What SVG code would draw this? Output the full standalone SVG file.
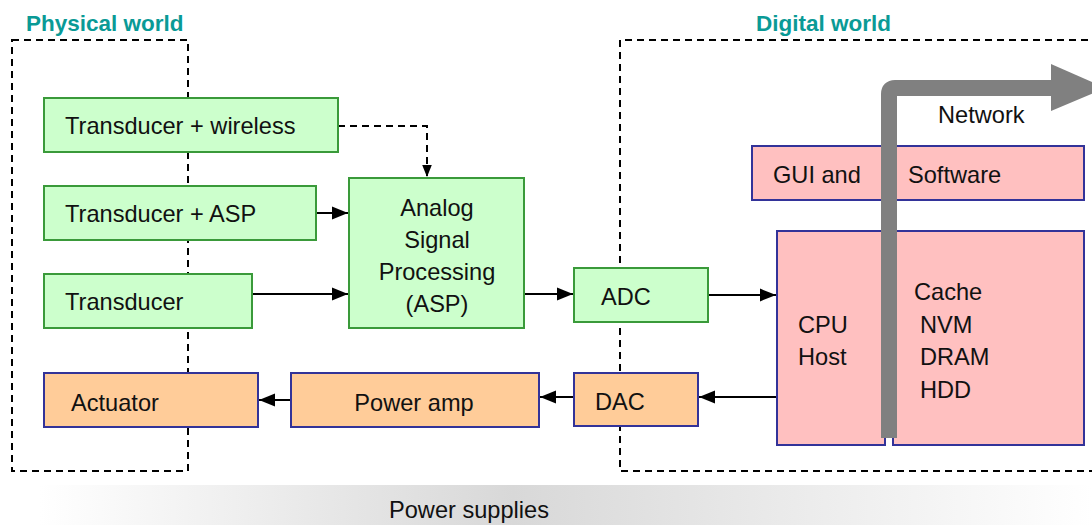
<svg xmlns="http://www.w3.org/2000/svg" width="1092" height="525" viewBox="0 0 1092 525">
<style>
text{font-family:"Liberation Sans",Arial,sans-serif;font-size:23.6px;fill:#111}
.title{font-weight:bold;fill:#0a9a96;font-size:22.5px}
.g{fill:#ccffcc;stroke:#3a9a3a;stroke-width:2}
.o{fill:#ffcc99;stroke:#333399;stroke-width:2}
.p{fill:#ffc0c0;stroke:#333399;stroke-width:2}
.dash{fill:none;stroke:#000;stroke-width:2;stroke-dasharray:7,5}
.c{fill:none;stroke:#000;stroke-width:2}
</style>
<defs>
<marker id="ah" viewBox="0 0 10 10" refX="10" refY="5" markerWidth="8" markerHeight="8" orient="auto" markerUnits="strokeWidth">
<path d="M0,1 L10,5 L0,9 z" fill="#000"/>
</marker>
<marker id="ahs" viewBox="0 0 10 10" refX="10" refY="5" markerWidth="6" markerHeight="6" orient="auto" markerUnits="strokeWidth">
<path d="M0,1 L10,5 L0,9 z" fill="#000"/>
</marker>
<linearGradient id="ps" x1="0" y1="0" x2="1" y2="0">
<stop offset="0" stop-color="#ffffff"/>
<stop offset="0.45" stop-color="#d8d8d8"/>
<stop offset="1" stop-color="#ffffff"/>
</linearGradient>
</defs>
<g id="power-supplies">
<rect x="40" y="485" width="1052" height="40" fill="url(#ps)"/>
<text x="469" y="518" text-anchor="middle">Power supplies</text>
</g>
<g id="physical-world">
<rect class="dash" x="12" y="40" width="176" height="431"/>
<text class="title" x="26" y="31">Physical world</text>
</g>
<g id="digital-world">
<path class="dash" d="M1100,40 H620 V471 H1100"/>
<text class="title" x="756" y="31">Digital world</text>
</g>
<g id="connectors">
<path class="dash" d="M338,126 H427 V177" marker-end="url(#ahs)"/>
<path class="c" d="M316,213 H348" marker-end="url(#ah)"/>
<path class="c" d="M252,294 H348" marker-end="url(#ah)"/>
<path class="c" d="M524,294 H573" marker-end="url(#ah)"/>
<path class="c" d="M708,295 H776" marker-end="url(#ah)"/>
<path class="c" d="M777,397 H699" marker-end="url(#ah)"/>
<path class="c" d="M574,397 H540" marker-end="url(#ah)"/>
<path class="c" d="M291,400 H259" marker-end="url(#ah)"/>
</g>
<g id="transducer-wireless">
<rect class="g" x="44" y="98" width="294" height="54"/>
<text x="65" y="134">Transducer + wireless</text>
</g>
<g id="transducer-asp">
<rect class="g" x="44" y="186" width="272" height="54"/>
<text x="65" y="222">Transducer + ASP</text>
</g>
<g id="transducer">
<rect class="g" x="44" y="274" width="208" height="54"/>
<text x="65" y="310">Transducer</text>
</g>
<g id="asp">
<rect class="g" x="349" y="178" width="175" height="150"/>
<text x="437" y="216" text-anchor="middle">Analog</text>
<text x="437" y="248" text-anchor="middle">Signal</text>
<text x="437" y="280" text-anchor="middle">Processing</text>
<text x="437" y="312" text-anchor="middle">(ASP)</text>
</g>
<g id="adc">
<rect class="g" x="574" y="268" width="134" height="54"/>
<text x="601" y="305">ADC</text>
</g>
<g id="actuator">
<rect class="o" x="44" y="373" width="214" height="54"/>
<text x="71" y="411">Actuator</text>
</g>
<g id="power-amp">
<rect class="o" x="291" y="373" width="248" height="54"/>
<text x="414" y="411" text-anchor="middle">Power amp</text>
</g>
<g id="dac">
<rect class="o" x="574" y="373" width="124" height="53"/>
<text x="595" y="410">DAC</text>
</g>
<g id="gui-software">
<rect class="p" x="752" y="146" width="332" height="54"/>
<text x="773" y="183">GUI and</text>
<text x="908" y="183">Software</text>
</g>
<g id="cpu-host">
<rect class="p" x="777" y="231" width="108" height="214"/>
<text x="798" y="333">CPU</text>
<text x="798" y="365">Host</text>
</g>
<g id="memory">
<rect class="p" x="893" y="231" width="191" height="214"/>
<text x="914" y="300">Cache</text>
<text x="920" y="333">NVM</text>
<text x="920" y="365">DRAM</text>
<text x="920" y="398">HDD</text>
</g>
<g id="network">
<path d="M889,438 V94 Q889,88 895,88 H1053" fill="none" stroke="#808080" stroke-width="16"/>
<path d="M1051,64 L1106,88 L1051,111 z" fill="#808080"/>
<text x="938" y="123">Network</text>
</g>
</svg>
